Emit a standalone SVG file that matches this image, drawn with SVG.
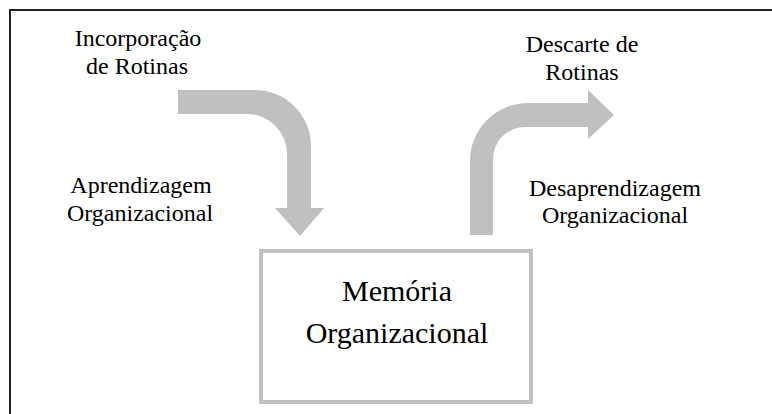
<svg xmlns="http://www.w3.org/2000/svg" width="772" height="414" viewBox="0 0 772 414">
<style>
.lbl{font-family:"Liberation Serif","Times New Roman",serif;font-size:24px;fill:#000;text-anchor:middle}
.big{font-family:"Liberation Serif","Times New Roman",serif;font-size:30px;fill:#000;text-anchor:middle}
.arrow{fill:#c0c0c0;stroke:none}
</style>
<rect x="10" y="10" width="780" height="420" fill="#fff" stroke="#222" stroke-width="2"/>
<g id="connectors">
<path id="arrow-in" class="arrow" d="M178,90 H255 A56,56 0 0 1 311,146 V208 H324 L300,236 L275,208 H287 V154 A40,40 0 0 0 247,114 H178 Z"/>
<path id="arrow-out" class="arrow" d="M470,235 V161 A58,58 0 0 1 528,103 H588 V90 L614,115 L588,139 V127 H525 A32,32 0 0 0 493,159 V235 Z"/>
</g>
<g id="label-incorporacao">
<text class="lbl" x="138" y="46">Incorporação</text>
<text class="lbl" x="137" y="74">de Rotinas</text>
</g>
<g id="label-aprendizagem">
<text class="lbl" x="141" y="193">Aprendizagem</text>
<text class="lbl" x="140" y="221">Organizacional</text>
</g>
<g id="label-descarte">
<text class="lbl" x="582" y="52">Descarte de</text>
<text class="lbl" x="582" y="80">Rotinas</text>
</g>
<g id="label-desaprendizagem">
<text class="lbl" x="615" y="196">Desaprendizagem</text>
<text class="lbl" x="615" y="223">Organizacional</text>
</g>
<g id="memoria">
<rect x="261" y="251" width="270" height="151" fill="#fff" stroke="#c0c0c0" stroke-width="4"/>
<text class="big" x="397" y="301">Memória</text>
<text class="big" x="397" y="343">Organizacional</text>
</g>
</svg>
